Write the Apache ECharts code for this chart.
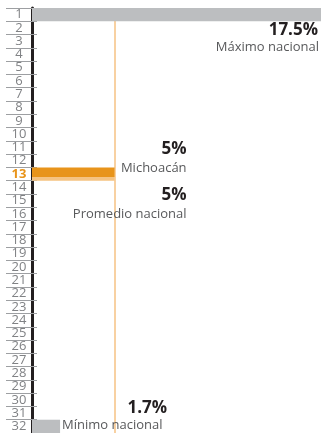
<!DOCTYPE html>
<html>
<head>
<meta charset="utf-8">
<script src="https://cdn.jsdelivr.net/npm/echarts@6/dist/echarts.min.js"></script>
<style>
  html, body { margin: 0; padding: 0; background: #fff; }
  #chart { width: 321px; height: 433px; }
</style>
</head>
<body>
<div id="chart"></div>
<script>
// ranking positions (1 = highest)
var ranks = ['1', '2', '3', '4', '5', '6', '7', '8', '9', '10', '11', '12', '13', '14', '15', '16',
             '17', '18', '19', '20', '21', '22', '23', '24', '25', '26', '27', '28', '29', '30', '31', '32'];
// only max, Michoacán and min are shown
var values = [17.5, '-', '-', '-', '-', '-', '-', '-', '-', '-', '-', '-', 5, '-', '-', '-',
              '-', '-', '-', '-', '-', '-', '-', '-', '-', '-', '-', '-', '-', '-', '-', 1.7];
var avgValue = 5;
var stateRank = '13';
var stateName = 'Michoacán';
var maxLabel = 'Máximo nacional';
var minLabel = 'Mínimo nacional';
var avgLabel = 'Promedio nacional';

var chartDom = document.getElementById('chart');
var myChart = echarts.init(chartDom);

var grey = '#bcbec0';
var orange = '#e8941a';
var orangeLight = '#f5c381';

var barData = values.map(function (v, i) {
  var color = grey;
  if (ranks[i] === stateRank) {
    color = new echarts.graphic.LinearGradient(0, 0, 0, 1, [
      { offset: 0, color: orange },
      { offset: 0.72, color: orange },
      { offset: 0.72, color: orangeLight },
      { offset: 1, color: orangeLight }
    ]);
  }
  return { value: v, itemStyle: { color: color } };
});

var option = {
  animation: false,
  grid: { left: 32, right: 0, top: 8, bottom: 0 },
  xAxis: {
    type: 'value',
    min: 0,
    max: 17.5,
    show: false
  },
  yAxis: [{
    type: 'category',
    data: ranks,
    inverse: true,
    position: 'left',
    axisLine: { show: true, lineStyle: { color: '#231f20', width: 3 } },
    axisTick: { show: true, interval: 0, length: 26, lineStyle: { color: '#9d9fa2', width: 1 } },
    axisLabel: {
      interval: 0,
      align: 'center',
      margin: 13,
      formatter: function (v) {
        return v === stateRank ? '{hl|' + v + '}' : '{n|' + v + '}';
      },
      rich: {
        n: { color: '#808285', fontSize: 13, fontFamily: 'Open Sans' },
        hl: { color: orange, fontSize: 13, fontWeight: 'bold', fontFamily: 'Open Sans' }
      }
    },
    splitLine: { show: false }
  }, {
    type: 'category',
    data: ranks,
    inverse: true,
    position: 'left',
    axisLine: { show: false },
    axisTick: { show: true, interval: 0, inside: true, length: 5, lineStyle: { color: '#9d9fa2', width: 1 } },
    axisLabel: { show: false },
    splitLine: { show: false }
  }],
  series: [{
    type: 'bar',
    z: 10,
    barWidth: '100%',
    data: barData,
    markLine: {
      silent: true,
      symbol: ['none', 'none'],
      label: { show: false },
      lineStyle: { color: '#f6c283', type: 'solid', width: 1.5 },
      data: [{ xAxis: avgValue }]
    }
  }]
};

myChart.setOption(option);

// annotation texts placed with the chart's own scales
var maxIdx = 0, minIdx = values.length - 1, stIdx = ranks.indexOf(stateRank);
var yMax = myChart.convertToPixel({ yAxisIndex: 0 }, maxIdx);
var yMin = myChart.convertToPixel({ yAxisIndex: 0 }, minIdx);
var ySt = myChart.convertToPixel({ yAxisIndex: 0 }, stIdx);
var xMax = myChart.convertToPixel({ xAxisIndex: 0 }, values[maxIdx]);
var xMin = myChart.convertToPixel({ xAxisIndex: 0 }, values[minIdx]);
var xAvg = myChart.convertToPixel({ xAxisIndex: 0 }, avgValue);

var bold = { fill: '#231f20', fontSize: 17, fontWeight: 'bold', fontFamily: 'Open Sans' };
var thin = { fill: '#58595b', fontSize: 13, fontFamily: 'Open Sans' };

function txt(text, x, y, align, base) {
  return {
    type: 'text', z: 20, silent: true,
    style: Object.assign({ text: text, x: x, y: y, textAlign: align, textVerticalAlign: 'middle' }, base)
  };
}

myChart.setOption({
  graphic: [
    txt(values[maxIdx] + '%', xMax - 3, yMax + 16, 'right', bold),
    txt(maxLabel, xMax - 2, yMax + 33, 'right', thin),
    txt(values[stIdx] + '%', xAvg + 72, ySt - 25, 'right', bold),
    txt(stateName, xAvg + 72, ySt - 6, 'right', thin),
    txt(avgValue + '%', xAvg + 72, ySt + 21, 'right', bold),
    txt(avgLabel, xAvg + 72, ySt + 40, 'right', thin),
    txt(values[minIdx] + '%', xMin + 107, yMin - 18, 'right', bold),
    txt(minLabel, xMin + 2, yMin - 1, 'left', thin)
  ]
});
</script>
</body>
</html>
